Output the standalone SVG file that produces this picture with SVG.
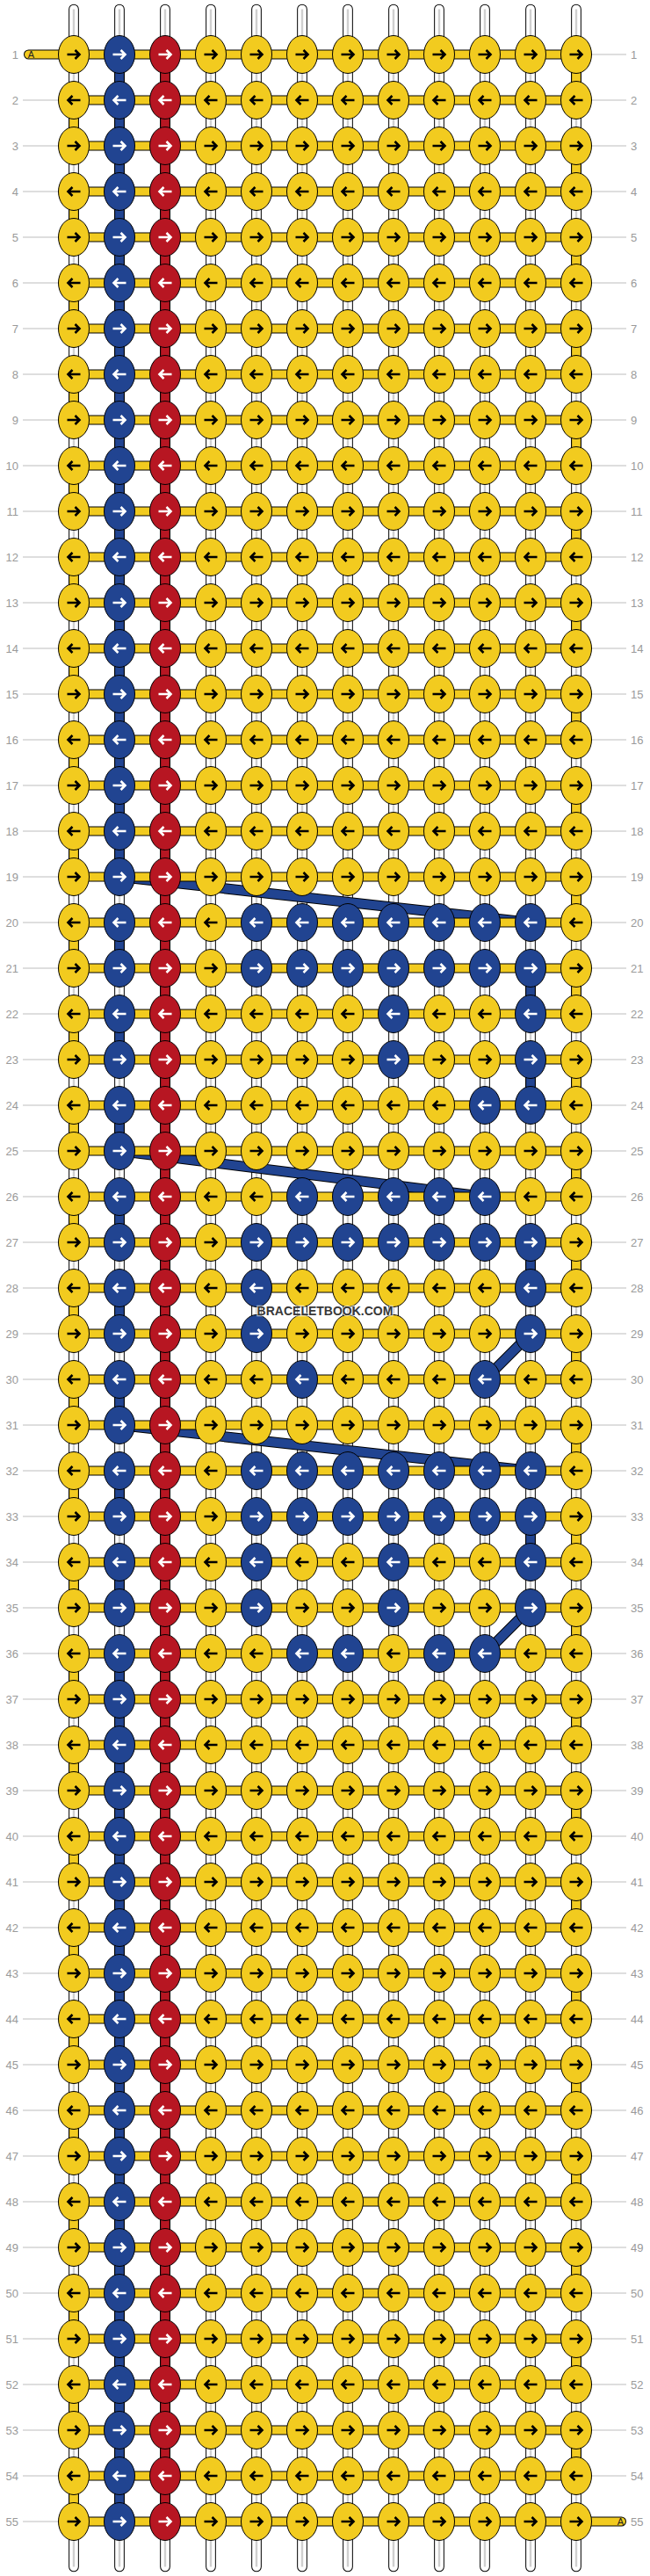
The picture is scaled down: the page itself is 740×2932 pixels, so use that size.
<svg xmlns="http://www.w3.org/2000/svg" xmlns:xlink="http://www.w3.org/1999/xlink" width="740" height="2932" viewBox="0 0 740 2932">
<style>
.lb{font-family:"Liberation Sans",Arial,sans-serif;font-size:13px;fill:#9a9a9a}
.ta{font-family:"Liberation Sans",Arial,sans-serif;font-size:11px;fill:#222}
.ll{fill:none;stroke:#bdbdbd;stroke-width:1}
.sk{fill:none;stroke:#000;stroke-width:11.7;stroke-linecap:round}
.sw{fill:none;stroke:#fff;stroke-width:9.7;stroke-linecap:round}
.sg{fill:none;stroke:#cfcfcf;stroke-width:2.4}
.kb{fill:none;stroke:#000;stroke-width:11.7}
.cr{fill:none;stroke:#b71622;stroke-width:9.7}
.cb{fill:none;stroke:#214491;stroke-width:9.7}
.cy{fill:none;stroke:#f2cb1f;stroke-width:9.7}
.dk{fill:none;stroke:#000;stroke-width:12}
.db{fill:none;stroke:#214491;stroke-width:10}
.hk{fill:none;stroke:#000;stroke-width:11;stroke-linecap:round}
.hy{fill:none;stroke:#f2cb1f;stroke-width:9;stroke-linecap:round}
.ey{fill:#f2cb1f;stroke:#000;stroke-width:1}
.eb{fill:#214491;stroke:#000;stroke-width:1}
.er{fill:#b71622;stroke:#000;stroke-width:1}
.ak{fill:none;stroke:#000;stroke-width:2.6}
.aw{fill:none;stroke:#fff;stroke-width:2.6}
.wm{font-family:"Liberation Sans",Arial,sans-serif;font-size:14px;font-weight:bold;fill:#383838;stroke:#fff;stroke-opacity:0.6;stroke-width:2.5;paint-order:stroke}
</style>
<defs>
<path id="ar" d="M-7.5,0H6M1.5,-5L6.5,0L1.5,5"/>
<path id="al" d="M7.5,0H-6M-1.5,-5L-6.5,0L-1.5,5"/>
<g id="yr"><ellipse class="ey" rx="17.5" ry="21.5"/><use href="#ar" class="ak"/></g>
<g id="yl"><ellipse class="ey" rx="17.5" ry="21.5"/><use href="#al" class="ak"/></g>
<g id="br"><ellipse class="eb" rx="17.5" ry="21.5"/><use href="#ar" class="aw"/></g>
<g id="bl"><ellipse class="eb" rx="17.5" ry="21.5"/><use href="#al" class="aw"/></g>
<g id="rr"><ellipse class="er" rx="17.5" ry="21.5"/><use href="#ar" class="aw"/></g>
<g id="rl"><ellipse class="er" rx="17.5" ry="21.5"/><use href="#al" class="aw"/></g>
<path id="vs" d="M84,10.5V2921.5M136,10.5V2921.5M188,10.5V2921.5M240,10.5V2921.5M292,10.5V2921.5M344,10.5V2921.5M396,10.5V2921.5M448,10.5V2921.5M500,10.5V2921.5M552,10.5V2921.5M604,10.5V2921.5M656,10.5V2921.5"/>
<path id="hb" d="M32.5,62H656M84,114H656M84,166H656M84,218H656M84,270H656M84,322H656M84,374H656M84,426H656M84,478H656M84,530H656M84,582H656M84,634H656M84,686H656M84,738H656M84,790H656M84,842H656M84,894H656M84,946H656M84,998H656M84,1050H656M84,1102H656M84,1154H656M84,1206H656M84,1258H656M84,1310H656M84,1362H656M84,1414H656M84,1466H656M84,1518H656M84,1570H656M84,1622H656M84,1674H656M84,1726H656M84,1778H656M84,1830H656M84,1882H656M84,1934H656M84,1986H656M84,2038H656M84,2090H656M84,2142H656M84,2194H656M84,2246H656M84,2298H656M84,2350H656M84,2402H656M84,2454H656M84,2506H656M84,2558H656M84,2610H656M84,2662H656M84,2714H656M84,2766H656M84,2818H656M84,2870H707.5"/>
<path id="vbs" d="M188,62V2870M136,62V998M136,1882V2870M604,1102V1154M604,1206V1258M604,1414V1466M604,1726V1778"/>
<path id="dg" d="M136,998L604,1050M136,1310L552,1362M136,1622L604,1674M604,1518L552,1570M604,1830L552,1882"/>
</defs>
<rect width="740" height="2932" fill="#fff"/>
<g id="row-lines">
<path class="ll" d="M26,114H66M26,166H66M26,218H66M26,270H66M26,322H66M26,374H66M26,426H66M26,478H66M26,530H66M26,582H66M26,634H66M26,686H66M26,738H66M26,790H66M26,842H66M26,894H66M26,946H66M26,998H66M26,1050H66M26,1102H66M26,1154H66M26,1206H66M26,1258H66M26,1310H66M26,1362H66M26,1414H66M26,1466H66M26,1518H66M26,1570H66M26,1622H66M26,1674H66M26,1726H66M26,1778H66M26,1830H66M26,1882H66M26,1934H66M26,1986H66M26,2038H66M26,2090H66M26,2142H66M26,2194H66M26,2246H66M26,2298H66M26,2350H66M26,2402H66M26,2454H66M26,2506H66M26,2558H66M26,2610H66M26,2662H66M26,2714H66M26,2766H66M26,2818H66M26,2870H66"/>
<path class="ll" d="M673,62H713M673,114H713M673,166H713M673,218H713M673,270H713M673,322H713M673,374H713M673,426H713M673,478H713M673,530H713M673,582H713M673,634H713M673,686H713M673,738H713M673,790H713M673,842H713M673,894H713M673,946H713M673,998H713M673,1050H713M673,1102H713M673,1154H713M673,1206H713M673,1258H713M673,1310H713M673,1362H713M673,1414H713M673,1466H713M673,1518H713M673,1570H713M673,1622H713M673,1674H713M673,1726H713M673,1778H713M673,1830H713M673,1882H713M673,1934H713M673,1986H713M673,2038H713M673,2090H713M673,2142H713M673,2194H713M673,2246H713M673,2298H713M673,2350H713M673,2402H713M673,2454H713M673,2506H713M673,2558H713M673,2610H713M673,2662H713M673,2714H713M673,2766H713M673,2818H713"/>
</g>
<g id="row-labels-left" class="lb" text-anchor="end">
<text x="21" y="66.5">1</text><text x="21" y="118.5">2</text><text x="21" y="170.5">3</text><text x="21" y="222.5">4</text><text x="21" y="274.5">5</text><text x="21" y="326.5">6</text><text x="21" y="378.5">7</text><text x="21" y="430.5">8</text><text x="21" y="482.5">9</text><text x="21" y="534.5">10</text><text x="21" y="586.5">11</text><text x="21" y="638.5">12</text><text x="21" y="690.5">13</text><text x="21" y="742.5">14</text><text x="21" y="794.5">15</text><text x="21" y="846.5">16</text><text x="21" y="898.5">17</text><text x="21" y="950.5">18</text><text x="21" y="1002.5">19</text><text x="21" y="1054.5">20</text><text x="21" y="1106.5">21</text><text x="21" y="1158.5">22</text><text x="21" y="1210.5">23</text><text x="21" y="1262.5">24</text><text x="21" y="1314.5">25</text><text x="21" y="1366.5">26</text><text x="21" y="1418.5">27</text><text x="21" y="1470.5">28</text><text x="21" y="1522.5">29</text><text x="21" y="1574.5">30</text><text x="21" y="1626.5">31</text><text x="21" y="1678.5">32</text><text x="21" y="1730.5">33</text><text x="21" y="1782.5">34</text><text x="21" y="1834.5">35</text><text x="21" y="1886.5">36</text><text x="21" y="1938.5">37</text><text x="21" y="1990.5">38</text><text x="21" y="2042.5">39</text><text x="21" y="2094.5">40</text><text x="21" y="2146.5">41</text><text x="21" y="2198.5">42</text><text x="21" y="2250.5">43</text><text x="21" y="2302.5">44</text><text x="21" y="2354.5">45</text><text x="21" y="2406.5">46</text><text x="21" y="2458.5">47</text><text x="21" y="2510.5">48</text><text x="21" y="2562.5">49</text><text x="21" y="2614.5">50</text><text x="21" y="2666.5">51</text><text x="21" y="2718.5">52</text><text x="21" y="2770.5">53</text><text x="21" y="2822.5">54</text><text x="21" y="2874.5">55</text>
</g>
<g id="row-labels-right" class="lb">
<text x="718" y="66.5">1</text><text x="718" y="118.5">2</text><text x="718" y="170.5">3</text><text x="718" y="222.5">4</text><text x="718" y="274.5">5</text><text x="718" y="326.5">6</text><text x="718" y="378.5">7</text><text x="718" y="430.5">8</text><text x="718" y="482.5">9</text><text x="718" y="534.5">10</text><text x="718" y="586.5">11</text><text x="718" y="638.5">12</text><text x="718" y="690.5">13</text><text x="718" y="742.5">14</text><text x="718" y="794.5">15</text><text x="718" y="846.5">16</text><text x="718" y="898.5">17</text><text x="718" y="950.5">18</text><text x="718" y="1002.5">19</text><text x="718" y="1054.5">20</text><text x="718" y="1106.5">21</text><text x="718" y="1158.5">22</text><text x="718" y="1210.5">23</text><text x="718" y="1262.5">24</text><text x="718" y="1314.5">25</text><text x="718" y="1366.5">26</text><text x="718" y="1418.5">27</text><text x="718" y="1470.5">28</text><text x="718" y="1522.5">29</text><text x="718" y="1574.5">30</text><text x="718" y="1626.5">31</text><text x="718" y="1678.5">32</text><text x="718" y="1730.5">33</text><text x="718" y="1782.5">34</text><text x="718" y="1834.5">35</text><text x="718" y="1886.5">36</text><text x="718" y="1938.5">37</text><text x="718" y="1990.5">38</text><text x="718" y="2042.5">39</text><text x="718" y="2094.5">40</text><text x="718" y="2146.5">41</text><text x="718" y="2198.5">42</text><text x="718" y="2250.5">43</text><text x="718" y="2302.5">44</text><text x="718" y="2354.5">45</text><text x="718" y="2406.5">46</text><text x="718" y="2458.5">47</text><text x="718" y="2510.5">48</text><text x="718" y="2562.5">49</text><text x="718" y="2614.5">50</text><text x="718" y="2666.5">51</text><text x="718" y="2718.5">52</text><text x="718" y="2770.5">53</text><text x="718" y="2822.5">54</text><text x="718" y="2874.5">55</text>
</g>
<g id="connectors">
<use href="#vs" class="sk"/>
<use href="#vs" class="sw"/>
<use href="#vs" class="sg"/>
<use href="#vbs" class="kb"/>
<path class="kb" stroke-dasharray="52 52" d="M136,1050V1830"/>
<path class="kb" stroke-dasharray="52 52" d="M84,114V2870"/>
<path class="kb" stroke-dasharray="52 52" d="M656,62V2818"/>
<path class="cr" d="M188,62V2870"/>
<path class="cb" d="M136,62V998M136,1882V2870M604,1102V1154M604,1206V1258M604,1414V1466M604,1726V1778"/>
<path class="cb" stroke-dasharray="52 52" d="M136,1050V1830"/>
<path class="cy" stroke-dasharray="52 52" d="M84,114V2870"/>
<path class="cy" stroke-dasharray="52 52" d="M656,62V2818"/>
<use href="#dg" class="dk"/>
<use href="#dg" class="db"/>
<use href="#hb" class="hk"/>
<use href="#hb" class="hy"/>
<text class="ta" x="31.7" y="66">A</text>
<text class="ta" x="702.7" y="2874">A</text>
</g>
<g id="nodes">
<g transform="translate(0,62)"><g id="n1-1"><use href="#yr" x="84"/></g><g id="n1-2"><use href="#br" x="136"/></g><g id="n1-3"><use href="#rr" x="188"/></g><g id="n1-4"><use href="#yr" x="240"/></g><g id="n1-5"><use href="#yr" x="292"/></g><g id="n1-6"><use href="#yr" x="344"/></g><g id="n1-7"><use href="#yr" x="396"/></g><g id="n1-8"><use href="#yr" x="448"/></g><g id="n1-9"><use href="#yr" x="500"/></g><g id="n1-10"><use href="#yr" x="552"/></g><g id="n1-11"><use href="#yr" x="604"/></g><g id="n1-12"><use href="#yr" x="656"/></g></g>
<g transform="translate(0,114)"><g id="n2-1"><use href="#yl" x="84"/></g><g id="n2-2"><use href="#bl" x="136"/></g><g id="n2-3"><use href="#rl" x="188"/></g><g id="n2-4"><use href="#yl" x="240"/></g><g id="n2-5"><use href="#yl" x="292"/></g><g id="n2-6"><use href="#yl" x="344"/></g><g id="n2-7"><use href="#yl" x="396"/></g><g id="n2-8"><use href="#yl" x="448"/></g><g id="n2-9"><use href="#yl" x="500"/></g><g id="n2-10"><use href="#yl" x="552"/></g><g id="n2-11"><use href="#yl" x="604"/></g><g id="n2-12"><use href="#yl" x="656"/></g></g>
<g transform="translate(0,166)"><g id="n3-1"><use href="#yr" x="84"/></g><g id="n3-2"><use href="#br" x="136"/></g><g id="n3-3"><use href="#rr" x="188"/></g><g id="n3-4"><use href="#yr" x="240"/></g><g id="n3-5"><use href="#yr" x="292"/></g><g id="n3-6"><use href="#yr" x="344"/></g><g id="n3-7"><use href="#yr" x="396"/></g><g id="n3-8"><use href="#yr" x="448"/></g><g id="n3-9"><use href="#yr" x="500"/></g><g id="n3-10"><use href="#yr" x="552"/></g><g id="n3-11"><use href="#yr" x="604"/></g><g id="n3-12"><use href="#yr" x="656"/></g></g>
<g transform="translate(0,218)"><g id="n4-1"><use href="#yl" x="84"/></g><g id="n4-2"><use href="#bl" x="136"/></g><g id="n4-3"><use href="#rl" x="188"/></g><g id="n4-4"><use href="#yl" x="240"/></g><g id="n4-5"><use href="#yl" x="292"/></g><g id="n4-6"><use href="#yl" x="344"/></g><g id="n4-7"><use href="#yl" x="396"/></g><g id="n4-8"><use href="#yl" x="448"/></g><g id="n4-9"><use href="#yl" x="500"/></g><g id="n4-10"><use href="#yl" x="552"/></g><g id="n4-11"><use href="#yl" x="604"/></g><g id="n4-12"><use href="#yl" x="656"/></g></g>
<g transform="translate(0,270)"><g id="n5-1"><use href="#yr" x="84"/></g><g id="n5-2"><use href="#br" x="136"/></g><g id="n5-3"><use href="#rr" x="188"/></g><g id="n5-4"><use href="#yr" x="240"/></g><g id="n5-5"><use href="#yr" x="292"/></g><g id="n5-6"><use href="#yr" x="344"/></g><g id="n5-7"><use href="#yr" x="396"/></g><g id="n5-8"><use href="#yr" x="448"/></g><g id="n5-9"><use href="#yr" x="500"/></g><g id="n5-10"><use href="#yr" x="552"/></g><g id="n5-11"><use href="#yr" x="604"/></g><g id="n5-12"><use href="#yr" x="656"/></g></g>
<g transform="translate(0,322)"><g id="n6-1"><use href="#yl" x="84"/></g><g id="n6-2"><use href="#bl" x="136"/></g><g id="n6-3"><use href="#rl" x="188"/></g><g id="n6-4"><use href="#yl" x="240"/></g><g id="n6-5"><use href="#yl" x="292"/></g><g id="n6-6"><use href="#yl" x="344"/></g><g id="n6-7"><use href="#yl" x="396"/></g><g id="n6-8"><use href="#yl" x="448"/></g><g id="n6-9"><use href="#yl" x="500"/></g><g id="n6-10"><use href="#yl" x="552"/></g><g id="n6-11"><use href="#yl" x="604"/></g><g id="n6-12"><use href="#yl" x="656"/></g></g>
<g transform="translate(0,374)"><g id="n7-1"><use href="#yr" x="84"/></g><g id="n7-2"><use href="#br" x="136"/></g><g id="n7-3"><use href="#rr" x="188"/></g><g id="n7-4"><use href="#yr" x="240"/></g><g id="n7-5"><use href="#yr" x="292"/></g><g id="n7-6"><use href="#yr" x="344"/></g><g id="n7-7"><use href="#yr" x="396"/></g><g id="n7-8"><use href="#yr" x="448"/></g><g id="n7-9"><use href="#yr" x="500"/></g><g id="n7-10"><use href="#yr" x="552"/></g><g id="n7-11"><use href="#yr" x="604"/></g><g id="n7-12"><use href="#yr" x="656"/></g></g>
<g transform="translate(0,426)"><g id="n8-1"><use href="#yl" x="84"/></g><g id="n8-2"><use href="#bl" x="136"/></g><g id="n8-3"><use href="#rl" x="188"/></g><g id="n8-4"><use href="#yl" x="240"/></g><g id="n8-5"><use href="#yl" x="292"/></g><g id="n8-6"><use href="#yl" x="344"/></g><g id="n8-7"><use href="#yl" x="396"/></g><g id="n8-8"><use href="#yl" x="448"/></g><g id="n8-9"><use href="#yl" x="500"/></g><g id="n8-10"><use href="#yl" x="552"/></g><g id="n8-11"><use href="#yl" x="604"/></g><g id="n8-12"><use href="#yl" x="656"/></g></g>
<g transform="translate(0,478)"><g id="n9-1"><use href="#yr" x="84"/></g><g id="n9-2"><use href="#br" x="136"/></g><g id="n9-3"><use href="#rr" x="188"/></g><g id="n9-4"><use href="#yr" x="240"/></g><g id="n9-5"><use href="#yr" x="292"/></g><g id="n9-6"><use href="#yr" x="344"/></g><g id="n9-7"><use href="#yr" x="396"/></g><g id="n9-8"><use href="#yr" x="448"/></g><g id="n9-9"><use href="#yr" x="500"/></g><g id="n9-10"><use href="#yr" x="552"/></g><g id="n9-11"><use href="#yr" x="604"/></g><g id="n9-12"><use href="#yr" x="656"/></g></g>
<g transform="translate(0,530)"><g id="n10-1"><use href="#yl" x="84"/></g><g id="n10-2"><use href="#bl" x="136"/></g><g id="n10-3"><use href="#rl" x="188"/></g><g id="n10-4"><use href="#yl" x="240"/></g><g id="n10-5"><use href="#yl" x="292"/></g><g id="n10-6"><use href="#yl" x="344"/></g><g id="n10-7"><use href="#yl" x="396"/></g><g id="n10-8"><use href="#yl" x="448"/></g><g id="n10-9"><use href="#yl" x="500"/></g><g id="n10-10"><use href="#yl" x="552"/></g><g id="n10-11"><use href="#yl" x="604"/></g><g id="n10-12"><use href="#yl" x="656"/></g></g>
<g transform="translate(0,582)"><g id="n11-1"><use href="#yr" x="84"/></g><g id="n11-2"><use href="#br" x="136"/></g><g id="n11-3"><use href="#rr" x="188"/></g><g id="n11-4"><use href="#yr" x="240"/></g><g id="n11-5"><use href="#yr" x="292"/></g><g id="n11-6"><use href="#yr" x="344"/></g><g id="n11-7"><use href="#yr" x="396"/></g><g id="n11-8"><use href="#yr" x="448"/></g><g id="n11-9"><use href="#yr" x="500"/></g><g id="n11-10"><use href="#yr" x="552"/></g><g id="n11-11"><use href="#yr" x="604"/></g><g id="n11-12"><use href="#yr" x="656"/></g></g>
<g transform="translate(0,634)"><g id="n12-1"><use href="#yl" x="84"/></g><g id="n12-2"><use href="#bl" x="136"/></g><g id="n12-3"><use href="#rl" x="188"/></g><g id="n12-4"><use href="#yl" x="240"/></g><g id="n12-5"><use href="#yl" x="292"/></g><g id="n12-6"><use href="#yl" x="344"/></g><g id="n12-7"><use href="#yl" x="396"/></g><g id="n12-8"><use href="#yl" x="448"/></g><g id="n12-9"><use href="#yl" x="500"/></g><g id="n12-10"><use href="#yl" x="552"/></g><g id="n12-11"><use href="#yl" x="604"/></g><g id="n12-12"><use href="#yl" x="656"/></g></g>
<g transform="translate(0,686)"><g id="n13-1"><use href="#yr" x="84"/></g><g id="n13-2"><use href="#br" x="136"/></g><g id="n13-3"><use href="#rr" x="188"/></g><g id="n13-4"><use href="#yr" x="240"/></g><g id="n13-5"><use href="#yr" x="292"/></g><g id="n13-6"><use href="#yr" x="344"/></g><g id="n13-7"><use href="#yr" x="396"/></g><g id="n13-8"><use href="#yr" x="448"/></g><g id="n13-9"><use href="#yr" x="500"/></g><g id="n13-10"><use href="#yr" x="552"/></g><g id="n13-11"><use href="#yr" x="604"/></g><g id="n13-12"><use href="#yr" x="656"/></g></g>
<g transform="translate(0,738)"><g id="n14-1"><use href="#yl" x="84"/></g><g id="n14-2"><use href="#bl" x="136"/></g><g id="n14-3"><use href="#rl" x="188"/></g><g id="n14-4"><use href="#yl" x="240"/></g><g id="n14-5"><use href="#yl" x="292"/></g><g id="n14-6"><use href="#yl" x="344"/></g><g id="n14-7"><use href="#yl" x="396"/></g><g id="n14-8"><use href="#yl" x="448"/></g><g id="n14-9"><use href="#yl" x="500"/></g><g id="n14-10"><use href="#yl" x="552"/></g><g id="n14-11"><use href="#yl" x="604"/></g><g id="n14-12"><use href="#yl" x="656"/></g></g>
<g transform="translate(0,790)"><g id="n15-1"><use href="#yr" x="84"/></g><g id="n15-2"><use href="#br" x="136"/></g><g id="n15-3"><use href="#rr" x="188"/></g><g id="n15-4"><use href="#yr" x="240"/></g><g id="n15-5"><use href="#yr" x="292"/></g><g id="n15-6"><use href="#yr" x="344"/></g><g id="n15-7"><use href="#yr" x="396"/></g><g id="n15-8"><use href="#yr" x="448"/></g><g id="n15-9"><use href="#yr" x="500"/></g><g id="n15-10"><use href="#yr" x="552"/></g><g id="n15-11"><use href="#yr" x="604"/></g><g id="n15-12"><use href="#yr" x="656"/></g></g>
<g transform="translate(0,842)"><g id="n16-1"><use href="#yl" x="84"/></g><g id="n16-2"><use href="#bl" x="136"/></g><g id="n16-3"><use href="#rl" x="188"/></g><g id="n16-4"><use href="#yl" x="240"/></g><g id="n16-5"><use href="#yl" x="292"/></g><g id="n16-6"><use href="#yl" x="344"/></g><g id="n16-7"><use href="#yl" x="396"/></g><g id="n16-8"><use href="#yl" x="448"/></g><g id="n16-9"><use href="#yl" x="500"/></g><g id="n16-10"><use href="#yl" x="552"/></g><g id="n16-11"><use href="#yl" x="604"/></g><g id="n16-12"><use href="#yl" x="656"/></g></g>
<g transform="translate(0,894)"><g id="n17-1"><use href="#yr" x="84"/></g><g id="n17-2"><use href="#br" x="136"/></g><g id="n17-3"><use href="#rr" x="188"/></g><g id="n17-4"><use href="#yr" x="240"/></g><g id="n17-5"><use href="#yr" x="292"/></g><g id="n17-6"><use href="#yr" x="344"/></g><g id="n17-7"><use href="#yr" x="396"/></g><g id="n17-8"><use href="#yr" x="448"/></g><g id="n17-9"><use href="#yr" x="500"/></g><g id="n17-10"><use href="#yr" x="552"/></g><g id="n17-11"><use href="#yr" x="604"/></g><g id="n17-12"><use href="#yr" x="656"/></g></g>
<g transform="translate(0,946)"><g id="n18-1"><use href="#yl" x="84"/></g><g id="n18-2"><use href="#bl" x="136"/></g><g id="n18-3"><use href="#rl" x="188"/></g><g id="n18-4"><use href="#yl" x="240"/></g><g id="n18-5"><use href="#yl" x="292"/></g><g id="n18-6"><use href="#yl" x="344"/></g><g id="n18-7"><use href="#yl" x="396"/></g><g id="n18-8"><use href="#yl" x="448"/></g><g id="n18-9"><use href="#yl" x="500"/></g><g id="n18-10"><use href="#yl" x="552"/></g><g id="n18-11"><use href="#yl" x="604"/></g><g id="n18-12"><use href="#yl" x="656"/></g></g>
<g transform="translate(0,998)"><g id="n19-1"><use href="#yr" x="84"/></g><g id="n19-2"><use href="#br" x="136"/></g><g id="n19-3"><use href="#rr" x="188"/></g><g id="n19-4"><use href="#yr" x="240"/></g><g id="n19-5"><use href="#yr" x="292"/></g><g id="n19-6"><use href="#yr" x="344"/></g><g id="n19-7"><use href="#yr" x="396"/></g><g id="n19-8"><use href="#yr" x="448"/></g><g id="n19-9"><use href="#yr" x="500"/></g><g id="n19-10"><use href="#yr" x="552"/></g><g id="n19-11"><use href="#yr" x="604"/></g><g id="n19-12"><use href="#yr" x="656"/></g></g>
<g transform="translate(0,1050)"><g id="n20-1"><use href="#yl" x="84"/></g><g id="n20-2"><use href="#bl" x="136"/></g><g id="n20-3"><use href="#rl" x="188"/></g><g id="n20-4"><use href="#yl" x="240"/></g><g id="n20-5"><use href="#bl" x="292"/></g><g id="n20-6"><use href="#bl" x="344"/></g><g id="n20-7"><use href="#bl" x="396"/></g><g id="n20-8"><use href="#bl" x="448"/></g><g id="n20-9"><use href="#bl" x="500"/></g><g id="n20-10"><use href="#bl" x="552"/></g><g id="n20-11"><use href="#bl" x="604"/></g><g id="n20-12"><use href="#yl" x="656"/></g></g>
<g transform="translate(0,1102)"><g id="n21-1"><use href="#yr" x="84"/></g><g id="n21-2"><use href="#br" x="136"/></g><g id="n21-3"><use href="#rr" x="188"/></g><g id="n21-4"><use href="#yr" x="240"/></g><g id="n21-5"><use href="#br" x="292"/></g><g id="n21-6"><use href="#br" x="344"/></g><g id="n21-7"><use href="#br" x="396"/></g><g id="n21-8"><use href="#br" x="448"/></g><g id="n21-9"><use href="#br" x="500"/></g><g id="n21-10"><use href="#br" x="552"/></g><g id="n21-11"><use href="#br" x="604"/></g><g id="n21-12"><use href="#yr" x="656"/></g></g>
<g transform="translate(0,1154)"><g id="n22-1"><use href="#yl" x="84"/></g><g id="n22-2"><use href="#bl" x="136"/></g><g id="n22-3"><use href="#rl" x="188"/></g><g id="n22-4"><use href="#yl" x="240"/></g><g id="n22-5"><use href="#yl" x="292"/></g><g id="n22-6"><use href="#yl" x="344"/></g><g id="n22-7"><use href="#yl" x="396"/></g><g id="n22-8"><use href="#bl" x="448"/></g><g id="n22-9"><use href="#yl" x="500"/></g><g id="n22-10"><use href="#yl" x="552"/></g><g id="n22-11"><use href="#bl" x="604"/></g><g id="n22-12"><use href="#yl" x="656"/></g></g>
<g transform="translate(0,1206)"><g id="n23-1"><use href="#yr" x="84"/></g><g id="n23-2"><use href="#br" x="136"/></g><g id="n23-3"><use href="#rr" x="188"/></g><g id="n23-4"><use href="#yr" x="240"/></g><g id="n23-5"><use href="#yr" x="292"/></g><g id="n23-6"><use href="#yr" x="344"/></g><g id="n23-7"><use href="#yr" x="396"/></g><g id="n23-8"><use href="#br" x="448"/></g><g id="n23-9"><use href="#yr" x="500"/></g><g id="n23-10"><use href="#yr" x="552"/></g><g id="n23-11"><use href="#br" x="604"/></g><g id="n23-12"><use href="#yr" x="656"/></g></g>
<g transform="translate(0,1258)"><g id="n24-1"><use href="#yl" x="84"/></g><g id="n24-2"><use href="#bl" x="136"/></g><g id="n24-3"><use href="#rl" x="188"/></g><g id="n24-4"><use href="#yl" x="240"/></g><g id="n24-5"><use href="#yl" x="292"/></g><g id="n24-6"><use href="#yl" x="344"/></g><g id="n24-7"><use href="#yl" x="396"/></g><g id="n24-8"><use href="#yl" x="448"/></g><g id="n24-9"><use href="#yl" x="500"/></g><g id="n24-10"><use href="#bl" x="552"/></g><g id="n24-11"><use href="#bl" x="604"/></g><g id="n24-12"><use href="#yl" x="656"/></g></g>
<g transform="translate(0,1310)"><g id="n25-1"><use href="#yr" x="84"/></g><g id="n25-2"><use href="#br" x="136"/></g><g id="n25-3"><use href="#rr" x="188"/></g><g id="n25-4"><use href="#yr" x="240"/></g><g id="n25-5"><use href="#yr" x="292"/></g><g id="n25-6"><use href="#yr" x="344"/></g><g id="n25-7"><use href="#yr" x="396"/></g><g id="n25-8"><use href="#yr" x="448"/></g><g id="n25-9"><use href="#yr" x="500"/></g><g id="n25-10"><use href="#yr" x="552"/></g><g id="n25-11"><use href="#yr" x="604"/></g><g id="n25-12"><use href="#yr" x="656"/></g></g>
<g transform="translate(0,1362)"><g id="n26-1"><use href="#yl" x="84"/></g><g id="n26-2"><use href="#bl" x="136"/></g><g id="n26-3"><use href="#rl" x="188"/></g><g id="n26-4"><use href="#yl" x="240"/></g><g id="n26-5"><use href="#yl" x="292"/></g><g id="n26-6"><use href="#bl" x="344"/></g><g id="n26-7"><use href="#bl" x="396"/></g><g id="n26-8"><use href="#bl" x="448"/></g><g id="n26-9"><use href="#bl" x="500"/></g><g id="n26-10"><use href="#bl" x="552"/></g><g id="n26-11"><use href="#yl" x="604"/></g><g id="n26-12"><use href="#yl" x="656"/></g></g>
<g transform="translate(0,1414)"><g id="n27-1"><use href="#yr" x="84"/></g><g id="n27-2"><use href="#br" x="136"/></g><g id="n27-3"><use href="#rr" x="188"/></g><g id="n27-4"><use href="#yr" x="240"/></g><g id="n27-5"><use href="#br" x="292"/></g><g id="n27-6"><use href="#br" x="344"/></g><g id="n27-7"><use href="#br" x="396"/></g><g id="n27-8"><use href="#br" x="448"/></g><g id="n27-9"><use href="#br" x="500"/></g><g id="n27-10"><use href="#br" x="552"/></g><g id="n27-11"><use href="#br" x="604"/></g><g id="n27-12"><use href="#yr" x="656"/></g></g>
<g transform="translate(0,1466)"><g id="n28-1"><use href="#yl" x="84"/></g><g id="n28-2"><use href="#bl" x="136"/></g><g id="n28-3"><use href="#rl" x="188"/></g><g id="n28-4"><use href="#yl" x="240"/></g><g id="n28-5"><use href="#bl" x="292"/></g><g id="n28-6"><use href="#yl" x="344"/></g><g id="n28-7"><use href="#yl" x="396"/></g><g id="n28-8"><use href="#yl" x="448"/></g><g id="n28-9"><use href="#yl" x="500"/></g><g id="n28-10"><use href="#yl" x="552"/></g><g id="n28-11"><use href="#bl" x="604"/></g><g id="n28-12"><use href="#yl" x="656"/></g></g>
<g transform="translate(0,1518)"><g id="n29-1"><use href="#yr" x="84"/></g><g id="n29-2"><use href="#br" x="136"/></g><g id="n29-3"><use href="#rr" x="188"/></g><g id="n29-4"><use href="#yr" x="240"/></g><g id="n29-5"><use href="#br" x="292"/></g><g id="n29-6"><use href="#yr" x="344"/></g><g id="n29-7"><use href="#yr" x="396"/></g><g id="n29-8"><use href="#yr" x="448"/></g><g id="n29-9"><use href="#yr" x="500"/></g><g id="n29-10"><use href="#yr" x="552"/></g><g id="n29-11"><use href="#br" x="604"/></g><g id="n29-12"><use href="#yr" x="656"/></g></g>
<g transform="translate(0,1570)"><g id="n30-1"><use href="#yl" x="84"/></g><g id="n30-2"><use href="#bl" x="136"/></g><g id="n30-3"><use href="#rl" x="188"/></g><g id="n30-4"><use href="#yl" x="240"/></g><g id="n30-5"><use href="#yl" x="292"/></g><g id="n30-6"><use href="#bl" x="344"/></g><g id="n30-7"><use href="#yl" x="396"/></g><g id="n30-8"><use href="#yl" x="448"/></g><g id="n30-9"><use href="#yl" x="500"/></g><g id="n30-10"><use href="#bl" x="552"/></g><g id="n30-11"><use href="#yl" x="604"/></g><g id="n30-12"><use href="#yl" x="656"/></g></g>
<g transform="translate(0,1622)"><g id="n31-1"><use href="#yr" x="84"/></g><g id="n31-2"><use href="#br" x="136"/></g><g id="n31-3"><use href="#rr" x="188"/></g><g id="n31-4"><use href="#yr" x="240"/></g><g id="n31-5"><use href="#yr" x="292"/></g><g id="n31-6"><use href="#yr" x="344"/></g><g id="n31-7"><use href="#yr" x="396"/></g><g id="n31-8"><use href="#yr" x="448"/></g><g id="n31-9"><use href="#yr" x="500"/></g><g id="n31-10"><use href="#yr" x="552"/></g><g id="n31-11"><use href="#yr" x="604"/></g><g id="n31-12"><use href="#yr" x="656"/></g></g>
<g transform="translate(0,1674)"><g id="n32-1"><use href="#yl" x="84"/></g><g id="n32-2"><use href="#bl" x="136"/></g><g id="n32-3"><use href="#rl" x="188"/></g><g id="n32-4"><use href="#yl" x="240"/></g><g id="n32-5"><use href="#bl" x="292"/></g><g id="n32-6"><use href="#bl" x="344"/></g><g id="n32-7"><use href="#bl" x="396"/></g><g id="n32-8"><use href="#bl" x="448"/></g><g id="n32-9"><use href="#bl" x="500"/></g><g id="n32-10"><use href="#bl" x="552"/></g><g id="n32-11"><use href="#bl" x="604"/></g><g id="n32-12"><use href="#yl" x="656"/></g></g>
<g transform="translate(0,1726)"><g id="n33-1"><use href="#yr" x="84"/></g><g id="n33-2"><use href="#br" x="136"/></g><g id="n33-3"><use href="#rr" x="188"/></g><g id="n33-4"><use href="#yr" x="240"/></g><g id="n33-5"><use href="#br" x="292"/></g><g id="n33-6"><use href="#br" x="344"/></g><g id="n33-7"><use href="#br" x="396"/></g><g id="n33-8"><use href="#br" x="448"/></g><g id="n33-9"><use href="#br" x="500"/></g><g id="n33-10"><use href="#br" x="552"/></g><g id="n33-11"><use href="#br" x="604"/></g><g id="n33-12"><use href="#yr" x="656"/></g></g>
<g transform="translate(0,1778)"><g id="n34-1"><use href="#yl" x="84"/></g><g id="n34-2"><use href="#bl" x="136"/></g><g id="n34-3"><use href="#rl" x="188"/></g><g id="n34-4"><use href="#yl" x="240"/></g><g id="n34-5"><use href="#bl" x="292"/></g><g id="n34-6"><use href="#yl" x="344"/></g><g id="n34-7"><use href="#yl" x="396"/></g><g id="n34-8"><use href="#bl" x="448"/></g><g id="n34-9"><use href="#yl" x="500"/></g><g id="n34-10"><use href="#yl" x="552"/></g><g id="n34-11"><use href="#bl" x="604"/></g><g id="n34-12"><use href="#yl" x="656"/></g></g>
<g transform="translate(0,1830)"><g id="n35-1"><use href="#yr" x="84"/></g><g id="n35-2"><use href="#br" x="136"/></g><g id="n35-3"><use href="#rr" x="188"/></g><g id="n35-4"><use href="#yr" x="240"/></g><g id="n35-5"><use href="#br" x="292"/></g><g id="n35-6"><use href="#yr" x="344"/></g><g id="n35-7"><use href="#yr" x="396"/></g><g id="n35-8"><use href="#br" x="448"/></g><g id="n35-9"><use href="#yr" x="500"/></g><g id="n35-10"><use href="#yr" x="552"/></g><g id="n35-11"><use href="#br" x="604"/></g><g id="n35-12"><use href="#yr" x="656"/></g></g>
<g transform="translate(0,1882)"><g id="n36-1"><use href="#yl" x="84"/></g><g id="n36-2"><use href="#bl" x="136"/></g><g id="n36-3"><use href="#rl" x="188"/></g><g id="n36-4"><use href="#yl" x="240"/></g><g id="n36-5"><use href="#yl" x="292"/></g><g id="n36-6"><use href="#bl" x="344"/></g><g id="n36-7"><use href="#bl" x="396"/></g><g id="n36-8"><use href="#yl" x="448"/></g><g id="n36-9"><use href="#bl" x="500"/></g><g id="n36-10"><use href="#bl" x="552"/></g><g id="n36-11"><use href="#yl" x="604"/></g><g id="n36-12"><use href="#yl" x="656"/></g></g>
<g transform="translate(0,1934)"><g id="n37-1"><use href="#yr" x="84"/></g><g id="n37-2"><use href="#br" x="136"/></g><g id="n37-3"><use href="#rr" x="188"/></g><g id="n37-4"><use href="#yr" x="240"/></g><g id="n37-5"><use href="#yr" x="292"/></g><g id="n37-6"><use href="#yr" x="344"/></g><g id="n37-7"><use href="#yr" x="396"/></g><g id="n37-8"><use href="#yr" x="448"/></g><g id="n37-9"><use href="#yr" x="500"/></g><g id="n37-10"><use href="#yr" x="552"/></g><g id="n37-11"><use href="#yr" x="604"/></g><g id="n37-12"><use href="#yr" x="656"/></g></g>
<g transform="translate(0,1986)"><g id="n38-1"><use href="#yl" x="84"/></g><g id="n38-2"><use href="#bl" x="136"/></g><g id="n38-3"><use href="#rl" x="188"/></g><g id="n38-4"><use href="#yl" x="240"/></g><g id="n38-5"><use href="#yl" x="292"/></g><g id="n38-6"><use href="#yl" x="344"/></g><g id="n38-7"><use href="#yl" x="396"/></g><g id="n38-8"><use href="#yl" x="448"/></g><g id="n38-9"><use href="#yl" x="500"/></g><g id="n38-10"><use href="#yl" x="552"/></g><g id="n38-11"><use href="#yl" x="604"/></g><g id="n38-12"><use href="#yl" x="656"/></g></g>
<g transform="translate(0,2038)"><g id="n39-1"><use href="#yr" x="84"/></g><g id="n39-2"><use href="#br" x="136"/></g><g id="n39-3"><use href="#rr" x="188"/></g><g id="n39-4"><use href="#yr" x="240"/></g><g id="n39-5"><use href="#yr" x="292"/></g><g id="n39-6"><use href="#yr" x="344"/></g><g id="n39-7"><use href="#yr" x="396"/></g><g id="n39-8"><use href="#yr" x="448"/></g><g id="n39-9"><use href="#yr" x="500"/></g><g id="n39-10"><use href="#yr" x="552"/></g><g id="n39-11"><use href="#yr" x="604"/></g><g id="n39-12"><use href="#yr" x="656"/></g></g>
<g transform="translate(0,2090)"><g id="n40-1"><use href="#yl" x="84"/></g><g id="n40-2"><use href="#bl" x="136"/></g><g id="n40-3"><use href="#rl" x="188"/></g><g id="n40-4"><use href="#yl" x="240"/></g><g id="n40-5"><use href="#yl" x="292"/></g><g id="n40-6"><use href="#yl" x="344"/></g><g id="n40-7"><use href="#yl" x="396"/></g><g id="n40-8"><use href="#yl" x="448"/></g><g id="n40-9"><use href="#yl" x="500"/></g><g id="n40-10"><use href="#yl" x="552"/></g><g id="n40-11"><use href="#yl" x="604"/></g><g id="n40-12"><use href="#yl" x="656"/></g></g>
<g transform="translate(0,2142)"><g id="n41-1"><use href="#yr" x="84"/></g><g id="n41-2"><use href="#br" x="136"/></g><g id="n41-3"><use href="#rr" x="188"/></g><g id="n41-4"><use href="#yr" x="240"/></g><g id="n41-5"><use href="#yr" x="292"/></g><g id="n41-6"><use href="#yr" x="344"/></g><g id="n41-7"><use href="#yr" x="396"/></g><g id="n41-8"><use href="#yr" x="448"/></g><g id="n41-9"><use href="#yr" x="500"/></g><g id="n41-10"><use href="#yr" x="552"/></g><g id="n41-11"><use href="#yr" x="604"/></g><g id="n41-12"><use href="#yr" x="656"/></g></g>
<g transform="translate(0,2194)"><g id="n42-1"><use href="#yl" x="84"/></g><g id="n42-2"><use href="#bl" x="136"/></g><g id="n42-3"><use href="#rl" x="188"/></g><g id="n42-4"><use href="#yl" x="240"/></g><g id="n42-5"><use href="#yl" x="292"/></g><g id="n42-6"><use href="#yl" x="344"/></g><g id="n42-7"><use href="#yl" x="396"/></g><g id="n42-8"><use href="#yl" x="448"/></g><g id="n42-9"><use href="#yl" x="500"/></g><g id="n42-10"><use href="#yl" x="552"/></g><g id="n42-11"><use href="#yl" x="604"/></g><g id="n42-12"><use href="#yl" x="656"/></g></g>
<g transform="translate(0,2246)"><g id="n43-1"><use href="#yr" x="84"/></g><g id="n43-2"><use href="#br" x="136"/></g><g id="n43-3"><use href="#rr" x="188"/></g><g id="n43-4"><use href="#yr" x="240"/></g><g id="n43-5"><use href="#yr" x="292"/></g><g id="n43-6"><use href="#yr" x="344"/></g><g id="n43-7"><use href="#yr" x="396"/></g><g id="n43-8"><use href="#yr" x="448"/></g><g id="n43-9"><use href="#yr" x="500"/></g><g id="n43-10"><use href="#yr" x="552"/></g><g id="n43-11"><use href="#yr" x="604"/></g><g id="n43-12"><use href="#yr" x="656"/></g></g>
<g transform="translate(0,2298)"><g id="n44-1"><use href="#yl" x="84"/></g><g id="n44-2"><use href="#bl" x="136"/></g><g id="n44-3"><use href="#rl" x="188"/></g><g id="n44-4"><use href="#yl" x="240"/></g><g id="n44-5"><use href="#yl" x="292"/></g><g id="n44-6"><use href="#yl" x="344"/></g><g id="n44-7"><use href="#yl" x="396"/></g><g id="n44-8"><use href="#yl" x="448"/></g><g id="n44-9"><use href="#yl" x="500"/></g><g id="n44-10"><use href="#yl" x="552"/></g><g id="n44-11"><use href="#yl" x="604"/></g><g id="n44-12"><use href="#yl" x="656"/></g></g>
<g transform="translate(0,2350)"><g id="n45-1"><use href="#yr" x="84"/></g><g id="n45-2"><use href="#br" x="136"/></g><g id="n45-3"><use href="#rr" x="188"/></g><g id="n45-4"><use href="#yr" x="240"/></g><g id="n45-5"><use href="#yr" x="292"/></g><g id="n45-6"><use href="#yr" x="344"/></g><g id="n45-7"><use href="#yr" x="396"/></g><g id="n45-8"><use href="#yr" x="448"/></g><g id="n45-9"><use href="#yr" x="500"/></g><g id="n45-10"><use href="#yr" x="552"/></g><g id="n45-11"><use href="#yr" x="604"/></g><g id="n45-12"><use href="#yr" x="656"/></g></g>
<g transform="translate(0,2402)"><g id="n46-1"><use href="#yl" x="84"/></g><g id="n46-2"><use href="#bl" x="136"/></g><g id="n46-3"><use href="#rl" x="188"/></g><g id="n46-4"><use href="#yl" x="240"/></g><g id="n46-5"><use href="#yl" x="292"/></g><g id="n46-6"><use href="#yl" x="344"/></g><g id="n46-7"><use href="#yl" x="396"/></g><g id="n46-8"><use href="#yl" x="448"/></g><g id="n46-9"><use href="#yl" x="500"/></g><g id="n46-10"><use href="#yl" x="552"/></g><g id="n46-11"><use href="#yl" x="604"/></g><g id="n46-12"><use href="#yl" x="656"/></g></g>
<g transform="translate(0,2454)"><g id="n47-1"><use href="#yr" x="84"/></g><g id="n47-2"><use href="#br" x="136"/></g><g id="n47-3"><use href="#rr" x="188"/></g><g id="n47-4"><use href="#yr" x="240"/></g><g id="n47-5"><use href="#yr" x="292"/></g><g id="n47-6"><use href="#yr" x="344"/></g><g id="n47-7"><use href="#yr" x="396"/></g><g id="n47-8"><use href="#yr" x="448"/></g><g id="n47-9"><use href="#yr" x="500"/></g><g id="n47-10"><use href="#yr" x="552"/></g><g id="n47-11"><use href="#yr" x="604"/></g><g id="n47-12"><use href="#yr" x="656"/></g></g>
<g transform="translate(0,2506)"><g id="n48-1"><use href="#yl" x="84"/></g><g id="n48-2"><use href="#bl" x="136"/></g><g id="n48-3"><use href="#rl" x="188"/></g><g id="n48-4"><use href="#yl" x="240"/></g><g id="n48-5"><use href="#yl" x="292"/></g><g id="n48-6"><use href="#yl" x="344"/></g><g id="n48-7"><use href="#yl" x="396"/></g><g id="n48-8"><use href="#yl" x="448"/></g><g id="n48-9"><use href="#yl" x="500"/></g><g id="n48-10"><use href="#yl" x="552"/></g><g id="n48-11"><use href="#yl" x="604"/></g><g id="n48-12"><use href="#yl" x="656"/></g></g>
<g transform="translate(0,2558)"><g id="n49-1"><use href="#yr" x="84"/></g><g id="n49-2"><use href="#br" x="136"/></g><g id="n49-3"><use href="#rr" x="188"/></g><g id="n49-4"><use href="#yr" x="240"/></g><g id="n49-5"><use href="#yr" x="292"/></g><g id="n49-6"><use href="#yr" x="344"/></g><g id="n49-7"><use href="#yr" x="396"/></g><g id="n49-8"><use href="#yr" x="448"/></g><g id="n49-9"><use href="#yr" x="500"/></g><g id="n49-10"><use href="#yr" x="552"/></g><g id="n49-11"><use href="#yr" x="604"/></g><g id="n49-12"><use href="#yr" x="656"/></g></g>
<g transform="translate(0,2610)"><g id="n50-1"><use href="#yl" x="84"/></g><g id="n50-2"><use href="#bl" x="136"/></g><g id="n50-3"><use href="#rl" x="188"/></g><g id="n50-4"><use href="#yl" x="240"/></g><g id="n50-5"><use href="#yl" x="292"/></g><g id="n50-6"><use href="#yl" x="344"/></g><g id="n50-7"><use href="#yl" x="396"/></g><g id="n50-8"><use href="#yl" x="448"/></g><g id="n50-9"><use href="#yl" x="500"/></g><g id="n50-10"><use href="#yl" x="552"/></g><g id="n50-11"><use href="#yl" x="604"/></g><g id="n50-12"><use href="#yl" x="656"/></g></g>
<g transform="translate(0,2662)"><g id="n51-1"><use href="#yr" x="84"/></g><g id="n51-2"><use href="#br" x="136"/></g><g id="n51-3"><use href="#rr" x="188"/></g><g id="n51-4"><use href="#yr" x="240"/></g><g id="n51-5"><use href="#yr" x="292"/></g><g id="n51-6"><use href="#yr" x="344"/></g><g id="n51-7"><use href="#yr" x="396"/></g><g id="n51-8"><use href="#yr" x="448"/></g><g id="n51-9"><use href="#yr" x="500"/></g><g id="n51-10"><use href="#yr" x="552"/></g><g id="n51-11"><use href="#yr" x="604"/></g><g id="n51-12"><use href="#yr" x="656"/></g></g>
<g transform="translate(0,2714)"><g id="n52-1"><use href="#yl" x="84"/></g><g id="n52-2"><use href="#bl" x="136"/></g><g id="n52-3"><use href="#rl" x="188"/></g><g id="n52-4"><use href="#yl" x="240"/></g><g id="n52-5"><use href="#yl" x="292"/></g><g id="n52-6"><use href="#yl" x="344"/></g><g id="n52-7"><use href="#yl" x="396"/></g><g id="n52-8"><use href="#yl" x="448"/></g><g id="n52-9"><use href="#yl" x="500"/></g><g id="n52-10"><use href="#yl" x="552"/></g><g id="n52-11"><use href="#yl" x="604"/></g><g id="n52-12"><use href="#yl" x="656"/></g></g>
<g transform="translate(0,2766)"><g id="n53-1"><use href="#yr" x="84"/></g><g id="n53-2"><use href="#br" x="136"/></g><g id="n53-3"><use href="#rr" x="188"/></g><g id="n53-4"><use href="#yr" x="240"/></g><g id="n53-5"><use href="#yr" x="292"/></g><g id="n53-6"><use href="#yr" x="344"/></g><g id="n53-7"><use href="#yr" x="396"/></g><g id="n53-8"><use href="#yr" x="448"/></g><g id="n53-9"><use href="#yr" x="500"/></g><g id="n53-10"><use href="#yr" x="552"/></g><g id="n53-11"><use href="#yr" x="604"/></g><g id="n53-12"><use href="#yr" x="656"/></g></g>
<g transform="translate(0,2818)"><g id="n54-1"><use href="#yl" x="84"/></g><g id="n54-2"><use href="#bl" x="136"/></g><g id="n54-3"><use href="#rl" x="188"/></g><g id="n54-4"><use href="#yl" x="240"/></g><g id="n54-5"><use href="#yl" x="292"/></g><g id="n54-6"><use href="#yl" x="344"/></g><g id="n54-7"><use href="#yl" x="396"/></g><g id="n54-8"><use href="#yl" x="448"/></g><g id="n54-9"><use href="#yl" x="500"/></g><g id="n54-10"><use href="#yl" x="552"/></g><g id="n54-11"><use href="#yl" x="604"/></g><g id="n54-12"><use href="#yl" x="656"/></g></g>
<g transform="translate(0,2870)"><g id="n55-1"><use href="#yr" x="84"/></g><g id="n55-2"><use href="#br" x="136"/></g><g id="n55-3"><use href="#rr" x="188"/></g><g id="n55-4"><use href="#yr" x="240"/></g><g id="n55-5"><use href="#yr" x="292"/></g><g id="n55-6"><use href="#yr" x="344"/></g><g id="n55-7"><use href="#yr" x="396"/></g><g id="n55-8"><use href="#yr" x="448"/></g><g id="n55-9"><use href="#yr" x="500"/></g><g id="n55-10"><use href="#yr" x="552"/></g><g id="n55-11"><use href="#yr" x="604"/></g><g id="n55-12"><use href="#yr" x="656"/></g></g>
</g>
<g id="watermark"><text class="wm" x="370" y="1497" text-anchor="middle">BRACELETBOOK.COM</text></g>
</svg>
